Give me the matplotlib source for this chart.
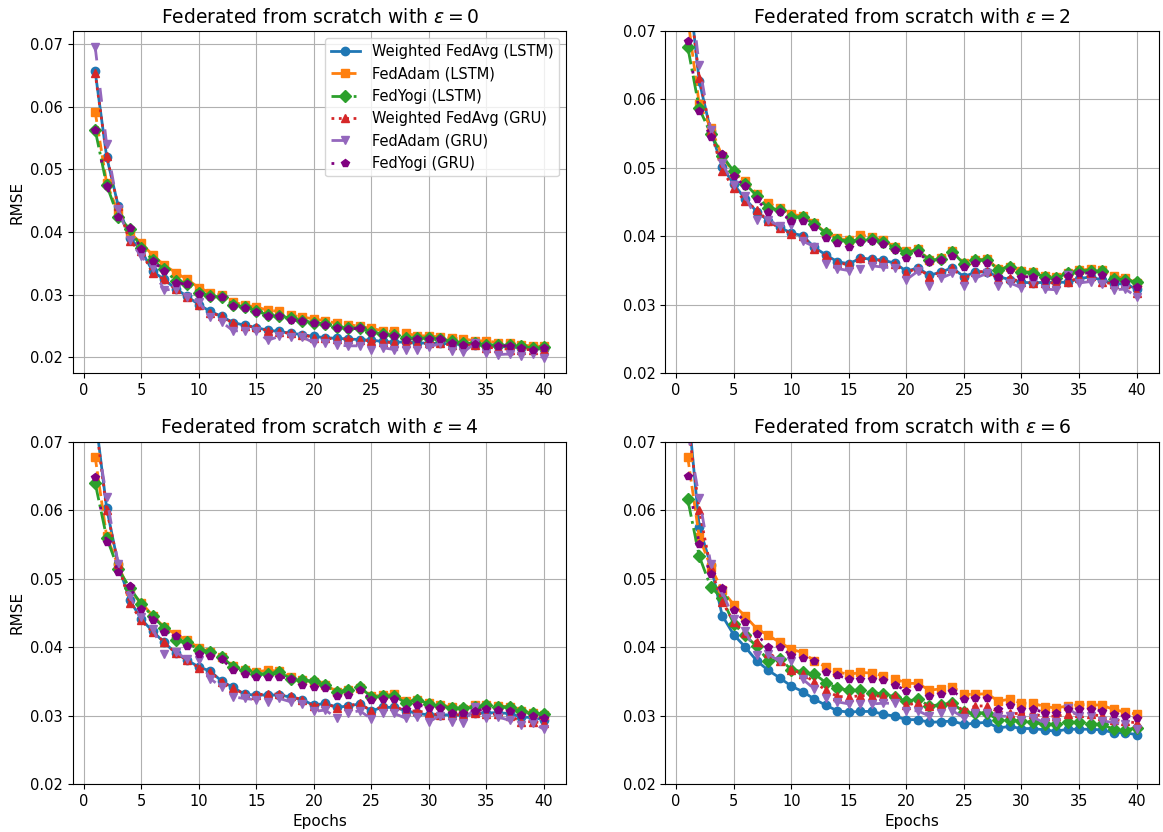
import matplotlib
matplotlib.use('Agg')
import matplotlib.pyplot as plt

epochs = list(range(1, 41))
eps_values = [0, 2, 4, 6]
labels = ['Weighted FedAvg (LSTM)', 'FedAdam (LSTM)', 'FedYogi (LSTM)',
          'Weighted FedAvg (GRU)', 'FedAdam (GRU)', 'FedYogi (GRU)']

# eps = 0
fedavg_lstm_e0 = [.0657, .0520, .0442, .0390, .0371, .0337, .0324, .0309, .0297, .0284,
                  .0273, .0265, .0255, .0251, .0247, .0243, .0241, .0238, .0236, .0233,
                  .0231, .0230, .0229, .0228, .0227, .0225, .0224, .0224, .0223, .0222,
                  .0222, .0221, .0220, .0220, .0218, .0217, .0216, .0215, .0214, .0213]
fedadam_lstm_e0 = [.0592, .0478, .0431, .0399, .0382, .0363, .0347, .0335, .0324, .0311,
                   .0303, .0299, .0288, .0283, .0280, .0275, .0273, .0267, .0264, .0261,
                   .0258, .0254, .0252, .0249, .0246, .0242, .0241, .0238, .0234, .0234,
                   .0232, .0230, .0229, .0226, .0226, .0223, .0223, .0219, .0218, .0217]
fedyogi_lstm_e0 = [.0563, .0475, .0424, .0405, .0375, .0355, .0340, .0322, .0317, .0303,
                   .0297, .0296, .0284, .0280, .0274, .0267, .0266, .0262, .0258, .0255,
                   .0253, .0248, .0247, .0246, .0240, .0237, .0235, .0230, .0231, .0230,
                   .0229, .0225, .0222, .0222, .0220, .0219, .0219, .0217, .0215, .0216]
fedavg_gru_e0 = [.0654, .0522, .0441, .0385, .0369, .0334, .0324, .0308, .0296, .0283,
                 .0271, .0265, .0254, .0250, .0248, .0242, .0240, .0238, .0236, .0231,
                 .0230, .0229, .0229, .0227, .0226, .0224, .0223, .0223, .0222, .0222,
                 .0222, .0219, .0219, .0219, .0215, .0215, .0212, .0212, .0212, .0212]
fedadam_gru_e0 = [.0696, .0540, .0437, .0387, .0361, .0342, .0307, .0309, .0296, .0288,
                  .0264, .0256, .0242, .0242, .0242, .0227, .0233, .0232, .0232, .0223,
                  .0222, .0219, .0218, .0218, .0212, .0215, .0212, .0211, .0212, .0216,
                  .0222, .0210, .0208, .0222, .0207, .0204, .0205, .0202, .0205, .0199]
fedyogi_gru_e0 = [.0563, .0473, .0423, .0406, .0373, .0353, .0338, .0319, .0316, .0301,
                  .0296, .0296, .0282, .0279, .0272, .0265, .0265, .0260, .0257, .0254,
                  .0252, .0246, .0245, .0246, .0238, .0235, .0234, .0227, .0229, .0229,
                  .0229, .0223, .0219, .0221, .0218, .0218, .0218, .0215, .0212, .0215]

# eps = 2
fedavg_lstm_e2 = [.0780, .0627, .0554, .0502, .0476, .0455, .0436, .0423, .0413, .0405,
                  .0401, .0384, .0373, .0363, .0360, .0368, .0367, .0365, .0361, .0349,
                  .0354, .0343, .0348, .0354, .0341, .0348, .0348, .0341, .0337, .0333,
                  .0332, .0333, .0333, .0333, .0338, .0341, .0336, .0331, .0331, .0323]
fedadam_lstm_e2 = [.0720, .0593, .0559, .0517, .0493, .0481, .0462, .0449, .0441, .0432,
                   .0430, .0420, .0405, .0398, .0394, .0402, .0399, .0394, .0385, .0378,
                   .0381, .0366, .0368, .0378, .0361, .0366, .0367, .0352, .0356, .0349,
                   .0348, .0342, .0341, .0347, .0351, .0352, .0351, .0342, .0339, .0332]
fedyogi_lstm_e2 = [.0677, .0587, .0550, .0518, .0495, .0477, .0459, .0441, .0439, .0429,
                   .0428, .0418, .0405, .0395, .0393, .0395, .0396, .0392, .0383, .0376,
                   .0380, .0365, .0367, .0377, .0360, .0365, .0366, .0351, .0356, .0348,
                   .0347, .0341, .0339, .0346, .0350, .0350, .0349, .0338, .0337, .0333]
fedavg_gru_e2 = [.0770, .0632, .0554, .0496, .0471, .0451, .0439, .0422, .0412, .0404,
                 .0400, .0382, .0371, .0361, .0359, .0368, .0367, .0364, .0360, .0347,
                 .0354, .0341, .0348, .0354, .0338, .0348, .0349, .0338, .0339, .0333,
                 .0332, .0332, .0332, .0334, .0339, .0342, .0334, .0330, .0330, .0318]
fedadam_gru_e2 = [.0790, .0650, .0556, .0507, .0475, .0459, .0424, .0424, .0415, .0417,
                  .0393, .0385, .0359, .0353, .0350, .0353, .0357, .0355, .0354, .0337,
                  .0349, .0328, .0339, .0346, .0328, .0339, .0346, .0327, .0332, .0325,
                  .0333, .0323, .0322, .0343, .0332, .0334, .0330, .0322, .0323, .0312]
fedyogi_gru_e2 = [.0686, .0583, .0545, .0520, .0488, .0473, .0454, .0435, .0435, .0423,
                  .0422, .0413, .0398, .0390, .0385, .0392, .0393, .0389, .0380, .0368,
                  .0376, .0363, .0365, .0372, .0355, .0361, .0361, .0341, .0351, .0341,
                  .0341, .0337, .0337, .0342, .0347, .0346, .0344, .0334, .0334, .0326]

# eps = 4
fedavg_lstm_e4 = [.0740, .0603, .0521, .0469, .0441, .0423, .0407, .0391, .0381, .0371,
                  .0365, .0350, .0341, .0331, .0330, .0330, .0330, .0327, .0323, .0315,
                  .0318, .0312, .0314, .0317, .0307, .0312, .0312, .0307, .0303, .0301,
                  .0301, .0301, .0301, .0303, .0304, .0304, .0303, .0298, .0297, .0294]
fedadam_lstm_e4 = [.0678, .0562, .0519, .0482, .0465, .0446, .0429, .0419, .0410, .0399,
                   .0393, .0386, .0373, .0366, .0364, .0366, .0365, .0356, .0352, .0349,
                   .0345, .0335, .0338, .0340, .0328, .0330, .0331, .0321, .0323, .0318,
                   .0316, .0312, .0309, .0316, .0316, .0314, .0313, .0306, .0304, .0301]
fedyogi_lstm_e4 = [.0640, .0560, .0514, .0487, .0463, .0445, .0428, .0410, .0407, .0396,
                   .0393, .0386, .0371, .0366, .0361, .0361, .0363, .0354, .0352, .0350,
                   .0344, .0334, .0337, .0342, .0327, .0328, .0329, .0318, .0323, .0317,
                   .0314, .0311, .0311, .0313, .0315, .0313, .0312, .0306, .0304, .0302]
fedavg_gru_e4 = [.0735, .0601, .0521, .0465, .0439, .0422, .0408, .0391, .0381, .0370,
                 .0364, .0349, .0340, .0331, .0330, .0332, .0331, .0328, .0323, .0314,
                 .0318, .0311, .0314, .0318, .0306, .0314, .0314, .0306, .0307, .0303,
                 .0301, .0301, .0301, .0303, .0302, .0302, .0300, .0291, .0291, .0289]
fedadam_gru_e4 = [.0720, .0619, .0522, .0475, .0444, .0427, .0390, .0393, .0382, .0381,
                  .0354, .0341, .0327, .0325, .0323, .0320, .0325, .0320, .0317, .0306,
                  .0308, .0296, .0304, .0307, .0295, .0303, .0303, .0296, .0298, .0291,
                  .0300, .0291, .0289, .0313, .0296, .0298, .0293, .0286, .0289, .0280]
fedyogi_gru_e4 = [.0649, .0553, .0510, .0489, .0456, .0440, .0422, .0416, .0402, .0390,
                  .0387, .0382, .0367, .0361, .0356, .0356, .0357, .0353, .0345, .0342,
                  .0340, .0328, .0330, .0338, .0322, .0324, .0324, .0309, .0316, .0311,
                  .0311, .0303, .0303, .0307, .0309, .0308, .0307, .0301, .0299, .0296]

# eps = 6
fedavg_lstm_e6 = [.0755, .0576, .0520, .0446, .0418, .0400, .0380, .0366, .0355, .0343,
                  .0335, .0324, .0315, .0307, .0305, .0306, .0306, .0302, .0299, .0294,
                  .0294, .0290, .0291, .0292, .0287, .0289, .0290, .0282, .0284, .0281,
                  .0281, .0279, .0277, .0280, .0280, .0280, .0279, .0275, .0275, .0272]
fedadam_lstm_e6 = [.0678, .0561, .0517, .0483, .0462, .0445, .0427, .0417, .0407, .0397,
                   .0392, .0380, .0371, .0364, .0360, .0363, .0362, .0358, .0354, .0347,
                   .0347, .0337, .0339, .0342, .0331, .0331, .0332, .0321, .0324, .0318,
                   .0318, .0313, .0311, .0314, .0316, .0316, .0315, .0309, .0305, .0302]
fedyogi_lstm_e6 = [.0616, .0533, .0488, .0471, .0434, .0417, .0401, .0380, .0383, .0367,
                   .0364, .0361, .0348, .0340, .0337, .0337, .0333, .0332, .0327, .0321,
                   .0324, .0314, .0316, .0318, .0305, .0304, .0304, .0293, .0293, .0292,
                   .0290, .0287, .0287, .0290, .0290, .0287, .0287, .0280, .0279, .0282]
fedavg_gru_e6 = [.0730, .0600, .0515, .0466, .0437, .0420, .0407, .0392, .0380, .0367,
                 .0361, .0349, .0337, .0328, .0327, .0329, .0329, .0328, .0328, .0315,
                 .0319, .0314, .0315, .0318, .0307, .0314, .0314, .0305, .0303, .0303,
                 .0302, .0299, .0299, .0302, .0304, .0302, .0299, .0294, .0292, .0289]
fedadam_gru_e6 = [.0715, .0618, .0522, .0481, .0441, .0424, .0389, .0390, .0379, .0379,
                  .0353, .0339, .0325, .0320, .0317, .0317, .0317, .0318, .0318, .0307,
                  .0307, .0299, .0304, .0307, .0297, .0304, .0304, .0299, .0299, .0294,
                  .0297, .0290, .0290, .0311, .0299, .0299, .0292, .0290, .0287, .0280]
fedyogi_gru_e6 = [.0650, .0551, .0507, .0487, .0454, .0437, .0419, .0400, .0400, .0388,
                  .0384, .0379, .0364, .0359, .0353, .0354, .0354, .0352, .0345, .0336,
                  .0341, .0329, .0332, .0336, .0324, .0325, .0326, .0309, .0316, .0309,
                  .0310, .0304, .0304, .0310, .0309, .0309, .0307, .0302, .0299, .0297]

runs = {
    0: [fedavg_lstm_e0, fedadam_lstm_e0, fedyogi_lstm_e0, fedavg_gru_e0, fedadam_gru_e0, fedyogi_gru_e0],
    2: [fedavg_lstm_e2, fedadam_lstm_e2, fedyogi_lstm_e2, fedavg_gru_e2, fedadam_gru_e2, fedyogi_gru_e2],
    4: [fedavg_lstm_e4, fedadam_lstm_e4, fedyogi_lstm_e4, fedavg_gru_e4, fedadam_gru_e4, fedyogi_gru_e4],
    6: [fedavg_lstm_e6, fedadam_lstm_e6, fedyogi_lstm_e6, fedavg_gru_e6, fedadam_gru_e6, fedyogi_gru_e6],
}

styles = [
    dict(color='tab:blue', linestyle='-', marker='o'),
    dict(color='tab:orange', linestyle='--', marker='s'),
    dict(color='tab:green', linestyle='-.', marker='D'),
    dict(color='tab:red', linestyle=':', marker='^'),
    dict(color='tab:purple', linestyle=(0, (5, 10)), marker='v'),
    dict(color='purple', linestyle=(0, (1, 10)), marker='p'),
]

fig, axes = plt.subplots(2, 2, figsize=(11.63, 8.32), dpi=100)
fig.subplots_adjust(left=0.0625, right=0.9966, top=0.9627, bottom=0.0577,
                    wspace=0.2, hspace=0.2)

for ax, eps in zip(axes.flat, eps_values):
    for series, label, st in zip(runs[eps], labels, styles):
        ax.plot(epochs, series, label=label, linewidth=2, markersize=6, **st)
    ax.set_title(r'Federated from scratch with $\epsilon = %d$' % eps, fontsize=13.5)
    ax.set_xticks(range(0, 41, 5))
    ax.tick_params(labelsize=10.5)
    ax.grid(True)
    if eps != 0:
        ax.set_ylim(0.02, 0.07)

axes[0, 0].set_ylabel('RMSE', fontsize=11)
axes[1, 0].set_ylabel('RMSE', fontsize=11)
axes[1, 0].set_xlabel('Epochs', fontsize=11)
axes[1, 1].set_xlabel('Epochs', fontsize=11)
axes[0, 0].legend(loc='upper right', fontsize=10.5)

fig.savefig('out.png')
